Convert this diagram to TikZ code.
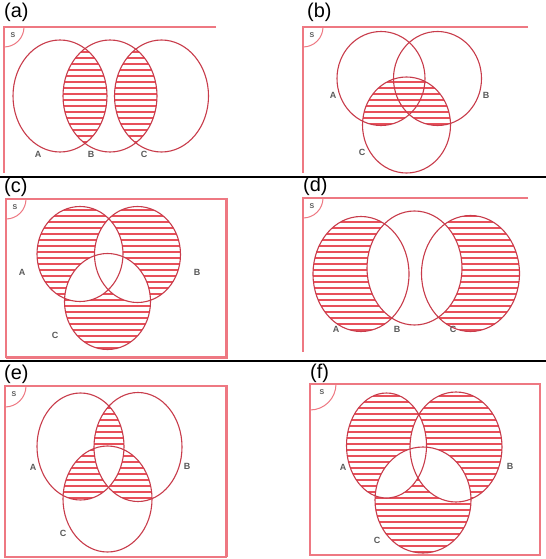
\documentclass[tikz,border=0pt]{standalone}
\usepackage{fontspec}
\setmainfont{Liberation Sans}
\begin{document}
\begin{tikzpicture}[x=1bp,y=-1bp,
  venn/.style={draw=vennred, line width=1.1bp},
  hatchline/.style={draw=hatchred, line width=2bp},
  frame/.style={draw=framered, line width=1.5bp},
  sep/.style={draw=black, line width=1.2bp},
  ptitle/.style={anchor=base west, inner sep=0pt, font=\fontsize{20}{22}\selectfont},
  setlbl/.style={inner sep=0pt, text=labgray, font=\fontsize{9}{10}\selectfont\bfseries},
  slbl/.style={inner sep=0pt, text=labgray, font=\fontsize{7}{8}\selectfont\bfseries}]
\definecolor{vennred}{RGB}{200,60,75}
\definecolor{hatchred}{RGB}{232,80,90}
\definecolor{framered}{RGB}{238,120,130}
\definecolor{labgray}{RGB}{90,90,90}
\newcommand\Ell[4]{(#1,#2) ellipse [x radius=#3, y radius=#4]}
\newcommand\hatchfrom[1]{\foreach \i in {0,...,30} \draw[hatchline] (0,#1+6*\i) -- (546,#1+6*\i);}
\newcommand\outside{(-20,-20) rectangle (566,579)}
\useasboundingbox (0,0) rectangle (546,559);
\fill[white] (0,0) rectangle (546,559);

% separators
\draw[sep] (0,177) -- (546,177);
\draw[sep] (0,361) -- (546,361);

% ================= (a)
\def\aA{\Ell{60}{96}{47}{56}}
\def\aB{\Ell{110}{96}{47}{56}}
\def\aC{\Ell{161.5}{96}{47}{56}}
\begin{scope}\clip \aA; \clip \aB; \hatchfrom{40}\end{scope}
\begin{scope}\clip \aB; \clip \aC; \hatchfrom{40}\end{scope}
\draw[venn] \aA; \draw[venn] \aB; \draw[venn] \aC;
\draw[frame] (216,27) -- (4,27) -- (4,173);
\begin{scope}\clip (4,27) rectangle (60,80); \draw[frame,line width=1bp] (4,27) circle [radius=20];\end{scope}
\node[slbl] (aS) at (13,35) {S};
\node[ptitle] (at) at (4,18) {(a)};
\node[setlbl] (aLA) at (38,154) {A};
\node[setlbl] (aLB) at (91,154) {B};
\node[setlbl] (aLC) at (144,154) {C};

% ================= (b)
\def\bA{\Ell{381}{78.5}{44}{47}}
\def\bB{\Ell{437.5}{78.5}{44}{47}}
\def\bC{\Ell{406.5}{125}{44}{48}}
\begin{scope}\clip \bC; \clip \bA; \hatchfrom{40}\end{scope}
\begin{scope}\clip \bC; \clip \bB; \hatchfrom{40}\end{scope}
\draw[venn] \bA; \draw[venn] \bB; \draw[venn] \bC;
\draw[frame] (528,27) -- (303,27) -- (303,173);
\begin{scope}\clip (303,27) rectangle (360,80); \draw[frame,line width=1bp] (303,27) circle [radius=20];\end{scope}
\node[slbl] (bS) at (312,35) {S};
\node[ptitle] (bt) at (307,18) {(b)};
\node[setlbl] (bLA) at (333,95) {A};
\node[setlbl] (bLB) at (486,95) {B};
\node[setlbl] (bLC) at (362,152) {C};

% ================= (c)
\def\cA{\Ell{80}{254}{43}{47.5}}
\def\cB{\Ell{137.5}{254.5}{43}{48}}
\def\cC{\Ell{107.5}{301.5}{43}{48}}
\begin{scope}[even odd rule]\clip \cA; \clip \outside \cB; \clip \outside \cC; \hatchfrom{204}\end{scope}
\begin{scope}[even odd rule]\clip \cB; \clip \outside \cA; \clip \outside \cC; \hatchfrom{204}\end{scope}
\begin{scope}[even odd rule]\clip \cC; \clip \outside \cA; \clip \outside \cB; \hatchfrom{204}\end{scope}
\draw[venn] \cA; \draw[venn] \cB; \draw[venn] \cC;
\draw[frame] (6,199) rectangle (226,357);
\draw[frame,line width=3bp] (226,198) -- (226,357) -- (6,357);
\begin{scope}\clip (6,199) rectangle (60,250); \draw[frame,line width=1bp] (6,199) circle [radius=20];\end{scope}
\node[slbl] (cS) at (15,207) {S};
\node[ptitle] (ct) at (4,193) {(c)};
\node[setlbl] (cLA) at (22,272) {A};
\node[setlbl] (cLB) at (197,272) {B};
\node[setlbl] (cLC) at (55,335) {C};

% ================= (d)
\def\dA{\Ell{361}{274}{48}{57.5}}
\def\dB{\Ell{414.5}{268}{47.5}{57}}
\def\dC{\Ell{470.5}{273.5}{49}{58}}
\begin{scope}[even odd rule]\clip \dA; \clip \outside \dB; \hatchfrom{210}\end{scope}
\begin{scope}[even odd rule]\clip \dC; \clip \outside \dB; \hatchfrom{210}\end{scope}
\draw[venn] \dA; \draw[venn] \dB; \draw[venn] \dC;
\draw[frame] (528,198) -- (303,198) -- (303,352);
\begin{scope}\clip (303,198) rectangle (360,250); \draw[frame,line width=1bp] (303,198) circle [radius=20];\end{scope}
\node[slbl] (dS) at (312,206) {S};
\node[ptitle] (dt) at (303,192) {(d)};
\node[setlbl] (dLA) at (336,329) {A};
\node[setlbl] (dLB) at (397,329) {B};
\node[setlbl] (dLC) at (453,329) {C};

% ================= (e)
\def\eA{\Ell{80.5}{446.5}{43.5}{53.5}}
\def\eB{\Ell{138}{447}{44}{54.5}}
\def\eC{\Ell{107.5}{499}{44.5}{53}}
\begin{scope}[even odd rule]\clip \eA; \clip \eB; \clip \outside \eC; \hatchfrom{390}\end{scope}
\begin{scope}[even odd rule]\clip \eA; \clip \eC; \clip \outside \eB; \hatchfrom{390}\end{scope}
\begin{scope}[even odd rule]\clip \eB; \clip \eC; \clip \outside \eA; \hatchfrom{390}\end{scope}
\draw[venn] \eA; \draw[venn] \eB; \draw[venn] \eC;
\draw[frame] (5,386) rectangle (226,557);
\draw[frame,line width=3bp] (226,385) -- (226,557);
\begin{scope}\clip (5,386) rectangle (60,440); \draw[frame,line width=1bp] (5,386) circle [radius=21];\end{scope}
\node[slbl] (eS) at (14,394) {S};
\node[ptitle] (et) at (4,379) {(e)};
\node[setlbl] (eLA) at (33,467) {A};
\node[setlbl] (eLB) at (187,466) {B};
\node[setlbl] (eLC) at (63,533) {C};

% ================= (f)
\def\fA{\Ell{386.5}{445.5}{40}{52.5}}
\def\fB{\Ell{456}{447}{46}{55}}
\def\fC{\Ell{423}{500}{48}{53}}
\begin{scope}[even odd rule]\clip \fA; \clip \outside \fB; \clip \outside \fC; \hatchfrom{390}\end{scope}
\begin{scope}[even odd rule]\clip \fB; \clip \outside \fA; \clip \outside \fC; \hatchfrom{390}\end{scope}
\begin{scope}[even odd rule]\clip \fC; \clip \outside \fA; \clip \outside \fB; \hatchfrom{390}\end{scope}
\draw[venn] \fA; \draw[venn] \fB; \draw[venn] \fC;
\draw[frame] (310,384) rectangle (540,555);
\begin{scope}\clip (310,384) rectangle (370,440); \draw[frame,line width=1bp] (310,384) circle [radius=26];\end{scope}
\node[slbl] (fS) at (322,392) {S};
\node[ptitle] (ft) at (310,378) {(f)};
\node[setlbl] (fLA) at (343,467) {A};
\node[setlbl] (fLB) at (510,466) {B};
\node[setlbl] (fLC) at (377,540) {C};
\end{tikzpicture}
\end{document}
